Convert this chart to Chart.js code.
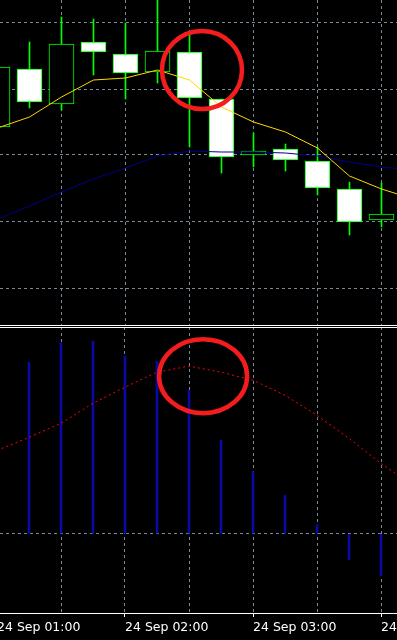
<!DOCTYPE html>
<html>
<head>
<meta charset="utf-8">
<script src="https://cdn.jsdelivr.net/npm/chart.js@4.4.0/dist/chart.umd.min.js"></script>
<style>
  html, body { margin: 0; padding: 0; background: #000; overflow: hidden; }
  #main { position: absolute; left: 0; top: 0; }
  #sub { position: absolute; left: 0; top: 327px; }
</style>
</head>
<body>
<canvas id="main" width="397" height="327"></canvas>
<canvas id="sub" width="397" height="313"></canvas>
<script>
// 15 minute candles, 24 Sep
const times = ['01:00', '01:15', '01:30', '01:45', '02:00', '02:15', '02:30', '02:45', '03:00', '03:15', '03:30', '03:45', '04:00'];
const opens  = [1.16999, 1.17057, 1.17022, 1.17084, 1.17072, 1.17054, 1.17074, 1.17027, 1.16971, 1.16977, 1.16965, 1.16937, 1.16906];
const highs  = [1.17064, 1.17084, 1.17109, 1.17107, 1.17103, 1.17131, 1.17093, 1.17027, 1.16993, 1.16982, 1.16979, 1.16944, 1.16943];
const lows   = [1.16991, 1.17018, 1.17016, 1.17051, 1.17027, 1.17043, 1.16979, 1.16953, 1.16959, 1.16955, 1.16931, 1.16891, 1.16899];
const closes = [1.17059, 1.17024, 1.17082, 1.17074, 1.17053, 1.17075, 1.17028, 1.16969, 1.16975, 1.16966, 1.16938, 1.16904, 1.16912];

// moving averages (last point is the next bar, off the right edge)
const maFast = [1.16998, 1.17009, 1.17029, 1.17046, 1.17048, 1.17056, 1.17046, 1.17019, 1.17004, 1.16994, 1.16978, 1.16950, 1.16937, 1.16927];
const maSlow = [1.16907, 1.16920, 1.16934, 1.16947, 1.16958, 1.16970, 1.16975, 1.16974, 1.16974, 1.16973, 1.16970, 1.16964, 1.16959, 1.16956];

// lower window: histogram + dotted signal
const histValues = [null, 0.00171, 0.00190, 0.00192, 0.00177, 0.00172, 0.00143, 0.00093, 0.00062, 0.00038, 0.00009, -0.00026, -0.00042];
const signalValues = [0.00083, 0.00096, 0.00110, 0.00130, 0.00146, 0.00161, 0.00167, 0.00161, 0.00153, 0.00138, 0.00118, 0.00095, 0.00070, 0.00048];

const tickLabels = ['24 Sep 01:00', '24 Sep 02:00', '24 Sep 03:00', '24 Sep 04:00'];
const priceGrid = [1.17103, 1.17037, 1.16971, 1.16904, 1.16838];

const GRID = '#778899';
const xTicks = scale => { scale.ticks = [0, 2, 4, 6, 8, 10, 12].map(v => ({ value: v })); };

const circleMark = {
  id: 'circleMark',
  afterDatasetsDraw(chart, args, opts) {
    const { ctx, scales } = chart;
    ctx.save();
    ctx.strokeStyle = opts.color;
    ctx.lineWidth = opts.width;
    ctx.beginPath();
    ctx.ellipse(scales.x.getPixelForValue(opts.at[0]), scales.y.getPixelForValue(opts.at[1]),
      opts.rx, opts.ry, opts.rot, 0, Math.PI * 2);
    ctx.stroke();
    ctx.restore();
  }
};

const pts = arr => arr.map((v, i) => ({ x: i, y: v }));

new Chart(document.getElementById('main'), {
  type: 'bar',
  data: {
    datasets: [
      {
        label: 'wicks',
        data: times.map((t, i) => ({ x: i, y: [lows[i], highs[i]] })),
        backgroundColor: '#00ff00',
        borderWidth: 0,
        barThickness: 1,
        grouped: false,
        order: 4
      },
      {
        label: 'bodies',
        data: times.map((t, i) => ({ x: i, y: [Math.min(opens[i], closes[i]), Math.max(opens[i], closes[i])] })),
        backgroundColor: times.map((t, i) => closes[i] < opens[i] ? '#ffffff' : '#000000'),
        borderColor: '#00ff00',
        borderWidth: 1,
        borderSkipped: false,
        barThickness: 25,
        grouped: false,
        order: 3
      },
      {
        type: 'line',
        label: 'MA slow',
        data: pts(maSlow),
        borderColor: '#00008b',
        borderWidth: 1,
        pointRadius: 0,
        tension: 0,
        order: 2
      },
      {
        type: 'line',
        label: 'MA fast',
        data: pts(maFast),
        borderColor: '#ffd700',
        borderWidth: 1,
        pointRadius: 0,
        tension: 0,
        order: 1
      }
    ]
  },
  options: {
    responsive: false,
    animation: false,
    layout: { padding: { bottom: 2 } },
    plugins: {
      legend: { display: false },
      tooltip: { enabled: false },
      circleMark: { at: [6.39, 1.17056], rx: 40, ry: 39, rot: 0, color: '#f41c1c', width: 4.5 }
    },
    scales: {
      x: {
        type: 'linear',
        min: 0.078125,
        max: 12.484375,
        offset: false,
        afterBuildTicks: xTicks,
        ticks: { display: false },
        grid: { color: GRID, drawTicks: false, offset: false },
        border: { display: true, color: '#ffffff', width: 1, dash: [3, 3] }
      },
      y: {
        min: 1.16801,
        max: 1.17126,
        afterBuildTicks: scale => { scale.ticks = priceGrid.map(v => ({ value: v })); },
        ticks: { display: false },
        grid: { color: GRID, drawTicks: false },
        border: { display: false, dash: [3, 3] }
      }
    }
  },
  plugins: [circleMark]
});

new Chart(document.getElementById('sub'), {
  type: 'bar',
  data: {
    datasets: [
      {
        label: 'histogram',
        data: pts(histValues),
        backgroundColor: '#0a0aa0',
        borderWidth: 0,
        barThickness: 2,
        grouped: false,
        order: 2
      },
      {
        type: 'line',
        label: 'signal',
        data: pts(signalValues),
        borderColor: '#ff0000',
        borderWidth: 1,
        borderDash: [2, 3],
        pointRadius: 0,
        tension: 0,
        order: 1
      }
    ]
  },
  options: {
    responsive: false,
    animation: false,
    layout: { padding: { bottom: 2 } },
    plugins: {
      legend: { display: false },
      tooltip: { enabled: false },
      circleMark: { at: [6.44, 0.00157], rx: 44, ry: 37, rot: 0, color: '#f41c1c', width: 4.5 }
    },
    scales: {
      x: {
        type: 'linear',
        position: 'bottom',
        min: 0.09375,
        max: 12.5,
        offset: false,
        afterBuildTicks: xTicks,
        afterFit: scale => { scale.paddingLeft = 0; scale.paddingRight = 0; },
        ticks: {
          autoSkip: false,
          maxRotation: 0,
          minRotation: 0,
          align: 'start',
          padding: 3,
          color: '#ffffff',
          font: { family: 'DejaVu Sans', size: 12.5, lineHeight: 1.2 },
          callback: v => v % 4 === 0 ? tickLabels[v / 4] : ''
        },
        grid: {
          color: GRID,
          offset: false,
          drawTicks: true,
          tickLength: 4,
          tickColor: c => c.tick && c.tick.value % 4 === 0 ? '#ffffff' : 'rgba(0,0,0,0)'
        },
        border: { display: true, color: '#ffffff', width: 1, dash: [3, 3] }
      },
      x2: {
        type: 'linear',
        position: 'top',
        min: 0.09375,
        max: 12.5,
        ticks: { display: false },
        grid: { display: false, drawTicks: false },
        border: { display: true, color: '#ffffff', width: 1 }
      },
      y: {
        min: -0.00079,
        max: 0.00206,
        afterBuildTicks: scale => { scale.ticks = [{ value: 0 }]; },
        ticks: { display: false },
        grid: { color: GRID, drawTicks: false },
        border: { display: false, dash: [3, 3] }
      }
    }
  },
  plugins: [circleMark]
});
</script>
</body>
</html>
